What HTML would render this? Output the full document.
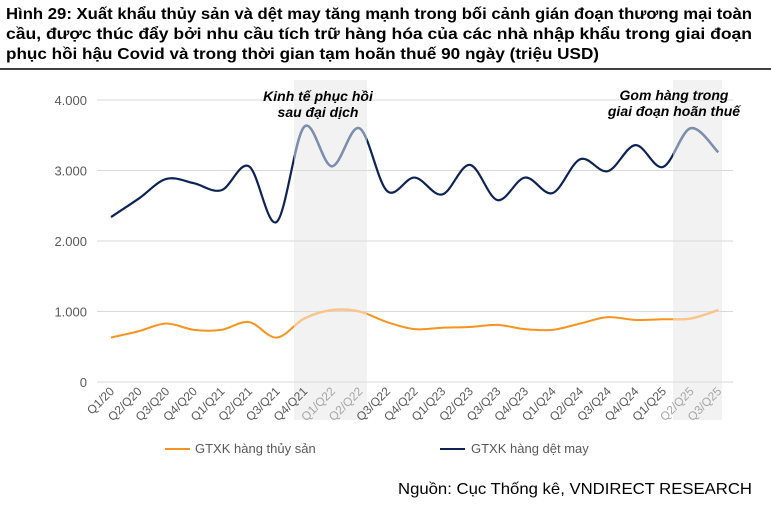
<!DOCTYPE html>
<html><head><meta charset="utf-8"><style>
body{margin:0;width:771px;height:512px;background:#fff;font-family:"Liberation Sans",Arial,sans-serif;overflow:hidden}
</style></head><body>
<svg id="s" width="771" height="512" style="position:absolute;left:0;top:0" xmlns="http://www.w3.org/2000/svg"></svg>
<script>
const s=document.getElementById('s');
const X=i=>111+i*27.6, Y=v=>382-v*0.0705;
const tx=[2340,2600,2880,2820,2720,3060,2270,3620,3060,3600,2710,2900,2660,3080,2580,2900,2680,3160,2990,3360,3050,3600,3260];
const sf=[630,720,830,740,740,850,630,900,1020,1000,850,750,770,780,810,750,740,830,920,880,890,900,1020];
const lab=["Q1/20","Q2/Q20","Q3/Q20","Q4/Q20","Q1/Q21","Q2/Q21","Q3/Q21","Q4/Q21","Q1/Q22","Q2/Q22","Q3/Q22","Q4/Q22","Q1/Q23","Q2/Q23","Q3/Q23","Q4/Q23","Q1/Q24","Q2/Q24","Q3/Q24","Q4/Q24","Q1/Q25","Q2/Q25","Q3/Q25"];
function path(d){const p=d.map((v,i)=>[X(i),Y(v)]);let r=`M${p[0][0]},${p[0][1]}`;
for(let i=0;i<p.length-1;i++){const a=p[i-1]||p[i],b=p[i],c=p[i+1],e=p[i+2]||c;
r+=`C${b[0]+(c[0]-a[0])/6},${b[1]+(c[1]-a[1])/6} ${c[0]-(e[0]-b[0])/6},${c[1]-(e[1]-b[1])/6} ${c[0]},${c[1]}`;}return r;}
let h=`<defs><clipPath id="c"><rect x="294" y="0" width="73" height="512"/><rect x="673" y="0" width="49" height="512"/></clipPath></defs>
<g font-size="15.5" font-weight="bold" lengthAdjust="spacingAndGlyphs">
<text x="6" y="19" textLength="746" lengthAdjust="spacingAndGlyphs">Hình 29: Xuất khẩu thủy sản và dệt may tăng mạnh trong bối cảnh gián đoạn thương mại toàn</text>
<text x="6" y="39" textLength="746" lengthAdjust="spacingAndGlyphs">cầu, được thúc đẩy bởi nhu cầu tích trữ hàng hóa của các nhà nhập khẩu trong giai đoạn</text>
<text x="6" y="59" textLength="593" lengthAdjust="spacingAndGlyphs">phục hồi hậu Covid và trong thời gian tạm hoãn thuế 90 ngày (triệu USD)</text></g>
<rect x="294" y="80" width="73" height="340" fill="#f2f2f2"/><rect x="673" y="80" width="49" height="340" fill="#f2f2f2"/>
<line x1="0" y1="69" x2="771" y2="69" stroke="#000" stroke-width="1.5"/>`;
[0,1000,2000,3000,4000].forEach(v=>{h+=`<line x1="97" x2="733" y1="${Y(v)}" y2="${Y(v)}" stroke="#d9d9d9" stroke-width="1"/>
<text x="87" y="${Y(v)+5}" text-anchor="end" font-size="13" fill="#595959">${v?v.toLocaleString('de-DE'):0}</text>`});
lab.forEach((l,i)=>{const x=X(i)+4,y=392;const inb=(i>=8&&i<=9)||i>=21;h+=`<text transform="translate(${x},${y}) rotate(-45)" text-anchor="end" font-size="12" fill="${inb?'#a6a6a6':'#595959'}">${l}</text>`});
const pt=path(tx),ps=path(sf);
h+=`<path d="${pt}" fill="none" stroke="#0d2355" stroke-width="2.2"/><path d="${ps}" fill="none" stroke="#f7931e" stroke-width="2"/>
<g clip-path="url(#c)"><path d="${pt}" fill="none" stroke="#7d8fae" stroke-width="2.4"/><path d="${ps}" fill="none" stroke="#f9c58a" stroke-width="2.4"/></g>
<text x="318" y="101" text-anchor="middle" font-size="14" font-weight="bold" font-style="italic">Kinh tế phục hồi</text>
<text x="318" y="117" text-anchor="middle" font-size="14" font-weight="bold" font-style="italic">sau đại dịch</text>
<text x="674" y="100" text-anchor="middle" font-size="14" font-weight="bold" font-style="italic">Gom hàng trong</text>
<text x="674" y="116" text-anchor="middle" font-size="14" font-weight="bold" font-style="italic">giai đoạn hoãn thuế</text>
<line x1="165" x2="190" y1="449" y2="449" stroke="#f7931e" stroke-width="2"/><text x="195" y="453" font-size="13" fill="#595959">GTXK hàng thủy sản</text>
<line x1="440" x2="465" y1="449" y2="449" stroke="#0d2355" stroke-width="2"/><text x="471" y="453" font-size="13" fill="#595959">GTXK hàng dệt may</text>
<text x="398" y="494" textLength="354" lengthAdjust="spacingAndGlyphs" font-size="16" fill="#000">Nguồn: Cục Thống kê, VNDIRECT RESEARCH</text>`;
s.innerHTML=h;
</script>
</body></html>
